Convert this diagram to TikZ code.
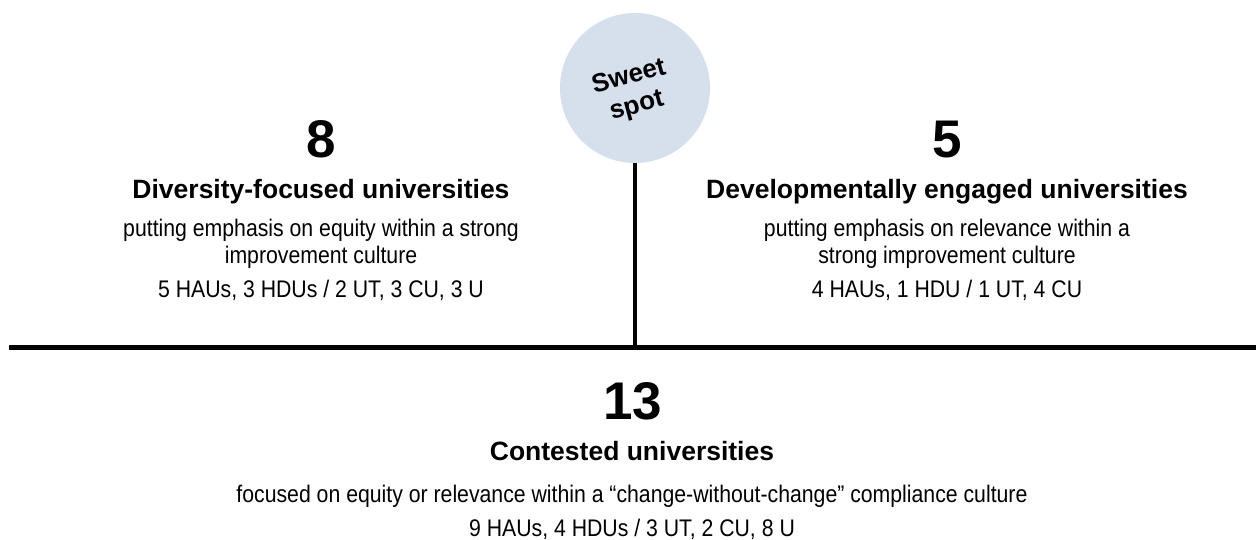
\documentclass[tikz,border=0pt]{standalone}
\usepackage{fontspec}
\setmainfont{Liberation Sans}
\newfontfamily\bodyfont{Liberation Sans}[FakeStretch=0.885]
\definecolor{sweetfill}{RGB}{214,224,237}
\tikzset{
  num/.style={anchor=base, font=\fontsize{53}{60}\selectfont\bfseries, inner sep=0pt},
  headtxt/.style={anchor=base, font=\fontsize{26.5}{30}\selectfont\bfseries, inner sep=0pt},
  bodytxt/.style={anchor=base, font=\bodyfont\fontsize{24}{28}\selectfont, inner sep=0pt},
  rule/.style={line width=5pt},
}
\begin{document}
\begin{tikzpicture}[x=1pt,y=-1pt]
\useasboundingbox (0,0) rectangle (1256,540);
% sweet spot
\node[circle, fill=sweetfill, minimum size=150pt, inner sep=0pt] (sweet) at (635,88) {};
\node[rotate=15, align=center, font=\fontsize{26}{30}\selectfont\bfseries, inner sep=0pt] (sweettxt) at (633,92) {Sweet\\spot};
% lines
\coordinate (hl) at (9,347);
\coordinate (hr) at (1256,347);
\draw[rule] (hl) -- (hr);
\draw[line width=4pt] (sweet.south) -- (sweet.south |- hl);
% left block
\node[num] (n8) at (321,158) {8};
\node[headtxt] (h8) at (321,199) {Diversity-focused universities};
\node[bodytxt] (b8a) at (321,237) {putting emphasis on equity within a strong};
\node[bodytxt] (b8b) at (321,264) {improvement culture};
\node[bodytxt] (b8c) at (321,298) {5 HAUs, 3 HDUs / 2 UT, 3 CU, 3 U};
% right block
\node[num] (n5) at (947,158) {5};
\node[headtxt] (h5) at (947,199) {Developmentally engaged universities};
\node[bodytxt] (b5a) at (947,237) {putting emphasis on relevance within a};
\node[bodytxt] (b5b) at (947,264) {strong improvement culture};
\node[bodytxt] (b5c) at (947,298) {4 HAUs, 1 HDU / 1 UT, 4 CU};
% bottom block
\node[num] (n13) at (633,419) {13};
\node[headtxt] (h13) at (632,460) {Contested universities};
\node[bodytxt] (b13a) at (632,502) {focused on equity or relevance within a “change-without-change” compliance culture};
\node[bodytxt] (b13b) at (632,536) {9 HAUs, 4 HDUs / 3 UT, 2 CU, 8 U};
\end{tikzpicture}
\end{document}
